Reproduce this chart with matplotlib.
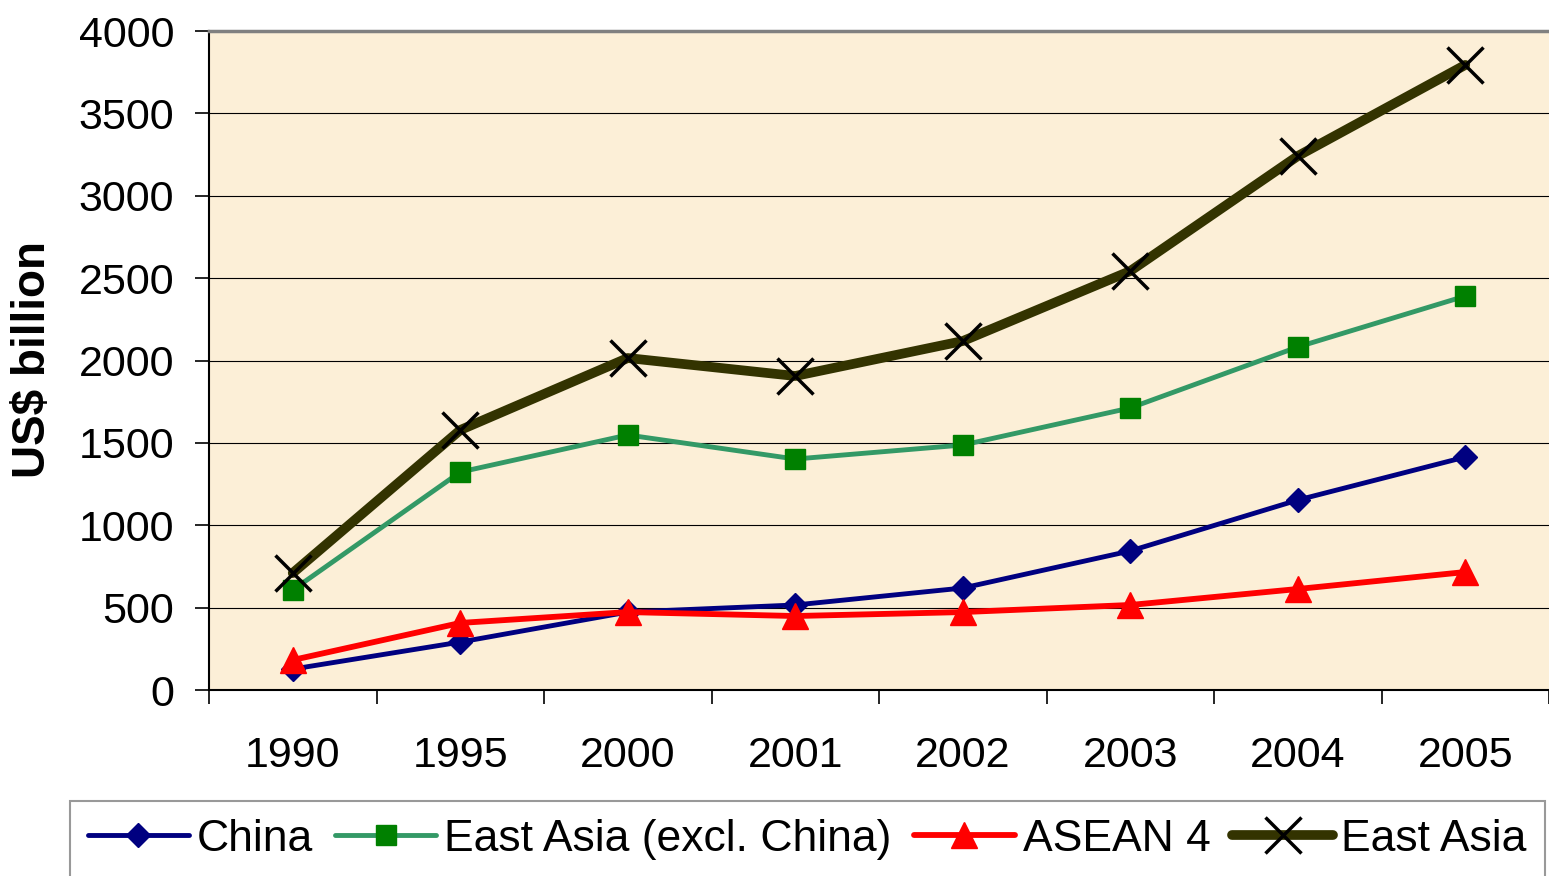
import matplotlib
matplotlib.use("Agg")
import matplotlib.pyplot as plt
import numpy as np

years = ["1990", "1995", "2000", "2001", "2002", "2003", "2004", "2005"]
china = [127, 291, 473, 516, 619, 844, 1153, 1414]
east_asia_excl = [607, 1323, 1548, 1402, 1487, 1712, 2082, 2391]
asean4 = [182, 407, 473, 449, 473, 516, 613, 716]
east_asia = [710, 1578, 2015, 1906, 2118, 2543, 3241, 3794]
yticks = [0, 500, 1000, 1500, 2000, 2500, 3000, 3500, 4000]

plt.rcParams['font.family'] = ['Liberation Sans', 'DejaVu Sans']

W, H = 1549, 876
fig = plt.figure(figsize=(W / 100, H / 100), dpi=100)
fig.patch.set_facecolor('white')
ax = fig.add_axes([209 / W, 1 - 690 / H, (W - 209) / W, (690 - 31) / H])
ax.set_facecolor('#FCEFD7')

x = np.arange(len(years))
ax.plot(x, china, color='#000080', lw=3.5, marker='D', ms=12, mfc='#000080',
        mec='#000080', label='China', zorder=3, solid_capstyle='round')
ax.plot(x, east_asia_excl, color='#339966', lw=3.5, marker='s', ms=14, mfc='#008000',
        mec='#008000', label='East Asia (excl. China)', zorder=4, solid_capstyle='round')
ax.plot(x, asean4, color='#FF0000', lw=4.2, marker='^', ms=19, mfc='#FF0000',
        mec='#FF0000', label='ASEAN 4', zorder=5, solid_capstyle='round')
ax.plot(x, east_asia, color='#333300', lw=7, marker='x', ms=26, mew=2.5, mec='black',
        label='East Asia', zorder=6, solid_capstyle='round')

ax.set_xlim(-0.5, len(years) - 0.5)
ax.set_ylim(0, 4000)
ax.set_yticks(yticks)
ax.set_yticklabels([str(v) for v in yticks])
ax.set_xticks(x)
ax.set_xticklabels(years)
ax.set_xticks(np.arange(-0.5, len(years) - 0.4, 1), minor=True)

ax.tick_params(axis='y', which='major', direction='out', length=10, width=1.2,
               pad=15, labelsize=31, color='black')
ax.tick_params(axis='x', which='major', length=0, pad=33, labelsize=31)
ax.tick_params(axis='x', which='minor', direction='out', length=10, width=1.2, color='black')

for v in yticks[1:-1]:
    ax.axhline(v, color='black', lw=0.8, zorder=1)

ax.spines['right'].set_visible(False)
ax.spines['top'].set_color('#808080')
ax.spines['top'].set_linewidth(2.5)
ax.spines['left'].set_color('black')
ax.spines['left'].set_linewidth(1.5)
ax.spines['bottom'].set_color('black')
ax.spines['bottom'].set_linewidth(1.5)

fig.text(33 / W, 1 - 360 / H, 'US$ billion', rotation=90, ha='center', va='center',
         fontsize=33, fontweight='bold')

leg = fig.legend(loc='upper left', bbox_to_anchor=(70 / W, 1 - 801 / H), ncol=4,
                 fontsize=32, frameon=True, fancybox=False, handlelength=2.27,
                 handletextpad=0.18, columnspacing=0.5, borderpad=0.4,
                 borderaxespad=0)
leg.get_frame().set_edgecolor('#808080')
leg.get_frame().set_linewidth(1.5)
leg.get_frame().set_facecolor('white')

fig.savefig('out.png', dpi=100)
